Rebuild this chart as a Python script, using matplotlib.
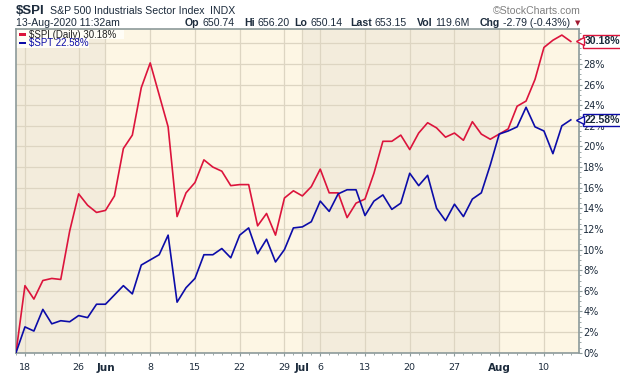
import matplotlib
matplotlib.use("Agg")
import matplotlib.pyplot as plt
from matplotlib.patches import Rectangle
from matplotlib.ticker import FixedLocator, MultipleLocator, FuncFormatter
import matplotlib.transforms as mtransforms

# trading days 15-May-2020 .. 13-Aug-2020, % change since start
spi = [0.0, 6.5, 5.2, 7.0, 7.2, 7.1, 11.8, 15.4, 14.3, 13.6,
       13.8, 15.2, 19.8, 21.1, 25.7, 28.1, 25.0, 21.9, 13.2, 15.5,
       16.5, 18.7, 18.0, 17.6, 16.2, 16.3, 16.3, 12.3, 13.5, 11.4,
       15.0, 15.7, 15.2, 16.1, 17.8, 15.5, 15.5, 13.1, 14.5, 14.9,
       17.4, 20.5, 20.5, 21.1, 19.7, 21.3, 22.3, 21.8, 20.9, 21.3,
       20.6, 22.4, 21.2, 20.7, 21.2, 21.7, 23.9, 24.4, 26.5, 29.6,
       30.3, 30.8, 30.18]
spt = [0.0, 2.5, 2.1, 4.2, 2.8, 3.1, 3.0, 3.6, 3.4, 4.7,
       4.7, 5.6, 6.5, 5.7, 8.5, 9.0, 9.5, 11.4, 4.9, 6.3,
       7.2, 9.5, 9.5, 10.1, 9.2, 11.4, 12.1, 9.6, 11.0, 8.8,
       10.0, 12.1, 12.2, 12.7, 14.7, 13.7, 15.4, 15.8, 15.8, 13.3,
       14.7, 15.3, 13.9, 14.5, 17.4, 16.2, 17.2, 14.0, 12.8, 14.4,
       13.2, 14.9, 15.5, 18.2, 21.2, 21.5, 21.9, 23.8, 21.9, 21.5,
       19.3, 22.0, 22.58]
tick_pos = [1, 7, 10, 15, 20, 25, 30, 32, 34, 39, 44, 49, 54, 59]
tick_lbl = ["18", "26", "Jun", "8", "15", "22", "29", "Jul", "6", "13",
            "20", "27", "Aug", "10"]
month_starts = [10, 32, 54]
quote = [("Op", "650.74"), ("Hi", "656.20"), ("Lo", "650.14"),
         ("Last", "653.15"), ("Vol", "119.6M"), ("Chg", "-2.79 (-0.43%)")]

RED = "#dc143c"
BLUE = "#0c0ca8"
TXT = "#1c2b3c"
DARK_BG = "#f3ecdc"
LIGHT_BG = "#fdf6e4"
GRID = "#ddd5c2"
FRAME = "#8c9a9a"
HF = "Liberation Sans"

W, H = 620, 376
fig = plt.figure(figsize=(W / 100, H / 100), dpi=100)
fig.patch.set_facecolor("white")


def fp(x, y):
    return x / W, 1 - y / H


left, right, top, bottom = 16, 579.3, 29, 353
ax = fig.add_axes([left / W, 1 - bottom / H, (right - left) / W, (bottom - top) / H])

xmin, xmax = 0, 62.95
ax.set_xlim(xmin, xmax)
ax.set_ylim(-0.03, 31.39)

# alternating month shading
edges = [xmin] + month_starts + [xmax]
for i in range(len(edges) - 1):
    ax.axvspan(edges[i], edges[i + 1], color=DARK_BG if i % 2 == 0 else LIGHT_BG,
               lw=0, zorder=0)

x = list(range(len(spi)))
ax.plot(x, spi, color=RED, lw=1.2, zorder=3)
ax.plot(x, spt, color=BLUE, lw=1.2, zorder=3)

ax.xaxis.set_major_locator(FixedLocator(tick_pos))
ax.xaxis.set_minor_locator(FixedLocator(x))
ax.set_xticklabels(tick_lbl)
ax.yaxis.set_major_locator(MultipleLocator(2))
ax.yaxis.set_minor_locator(MultipleLocator(0.5))
# the 30% label sits under the last-value tag, so leave it blank
ax.yaxis.set_major_formatter(FuncFormatter(
    lambda v, p: "" if round(v) >= 30 else "%d%%" % round(v)))
ax.grid(True, which="major", color=GRID, lw=0.9, zorder=1)
ax.set_axisbelow(True)

ax.yaxis.tick_right()
ax.tick_params(axis="y", which="major", length=2, pad=0.8, labelsize=7,
               labelcolor=TXT, color=FRAME, width=0.8)
ax.tick_params(axis="y", which="minor", length=1.3, color=FRAME, width=0.6)
ax.tick_params(axis="x", which="major", length=2, pad=5, labelsize=6.8,
               labelcolor=TXT, color=FRAME, width=0.8)
ax.tick_params(axis="x", which="minor", length=1.3, color=FRAME, width=0.6)
for lbl in ax.get_xticklabels():
    if lbl.get_text() in ("Jun", "Jul", "Aug"):
        lbl.set_fontweight("bold")
        lbl.set_fontsize(7.5)

for s in ax.spines.values():
    s.set_color(FRAME)
    s.set_linewidth(1.2)

# legend rows
fig.add_artist(Rectangle(fp(17, 39), 107 / W, 9.5 / H, transform=fig.transFigure,
                         facecolor="#fffdf6", edgecolor="none", zorder=4))
fig.add_artist(Rectangle(fp(17, 48), 72 / W, 9 / H, transform=fig.transFigure,
                         facecolor="#fffdf6", edgecolor="none", zorder=4))
for yy, col in ((34.5, RED), (43.3, BLUE)):
    fig.add_artist(Rectangle(fp(19.5, yy + 1), 6.5 / W, 2.2 / H,
                             transform=fig.transFigure, facecolor=col,
                             edgecolor="none", zorder=5))
fig.text(*fp(29, 34.5), "\\$SPI (Daily) 30.18%", fontsize=7, family=HF,
         color="#202020", va="center", ha="left", zorder=6)
fig.text(*fp(29, 43.3), "\\$SPT 22.58%", fontsize=7, family=HF,
         color=BLUE, va="center", ha="left", zorder=6)

# last value tags on the right axis
trans = mtransforms.blended_transform_factory(ax.transAxes, ax.transData)
for val, col in ((spi[-1], RED), (spt[-1], BLUE)):
    ax.text(1.0 + 5 / (right - left), val, "%.2f%%" % val, transform=trans,
            ha="left", va="center", fontsize=7.6, fontweight="bold", family=HF,
            color=TXT, clip_on=False, zorder=6,
            bbox=dict(boxstyle="square,pad=0.12", fc="white", ec=col, lw=1))
    ax.plot([1.0 + 0.5 / (right - left)], [val], transform=trans, marker="<",
            ms=5.5, mfc="white", mec=col, mew=1, clip_on=False, zorder=7)

# header
fig.text(*fp(16, 10.5), "\\$SPI", fontsize=9.5, fontweight="bold", color=TXT,
         va="center", ha="left", family=HF)
fig.text(*fp(49.5, 11), "S&P 500 Industrials Sector Index", fontsize=7.6,
         color=TXT, va="center", ha="left", family=HF)
fig.text(*fp(210, 11), "INDX", fontsize=7.6, color=TXT, va="center", ha="left",
         family=HF)
fig.text(*fp(16, 23.5), "13-Aug-2020 11:32am", fontsize=7.6, color=TXT,
         va="center", ha="left", family=HF)
fig.text(*fp(581, 11), "\u00a9StockCharts.com", fontsize=7.6, color="#808080",
         va="center", ha="right", family=HF)

# quote line: bold label, value right after it
renderer = fig.canvas.get_renderer()
group_x = [184.5, 244, 294.4, 350, 416.7, 479.4]
for gx, (lab, val) in zip(group_x, quote):
    t = fig.text(*fp(gx, 23.5), lab, fontsize=7.6, color=TXT, va="center",
                 ha="left", family=HF, fontweight="bold")
    ext = t.get_window_extent(renderer)
    fig.text(ext.x1 / W + 3 / W, 1 - 23.5 / H, val, fontsize=7.6, color=TXT,
             va="center", ha="left", family=HF)
fig.text(*fp(577.4, 23.5), "\u25bc", fontsize=5, color="#a01830", va="center",
         ha="center", family="DejaVu Sans")

fig.savefig("out.png", dpi=100)
